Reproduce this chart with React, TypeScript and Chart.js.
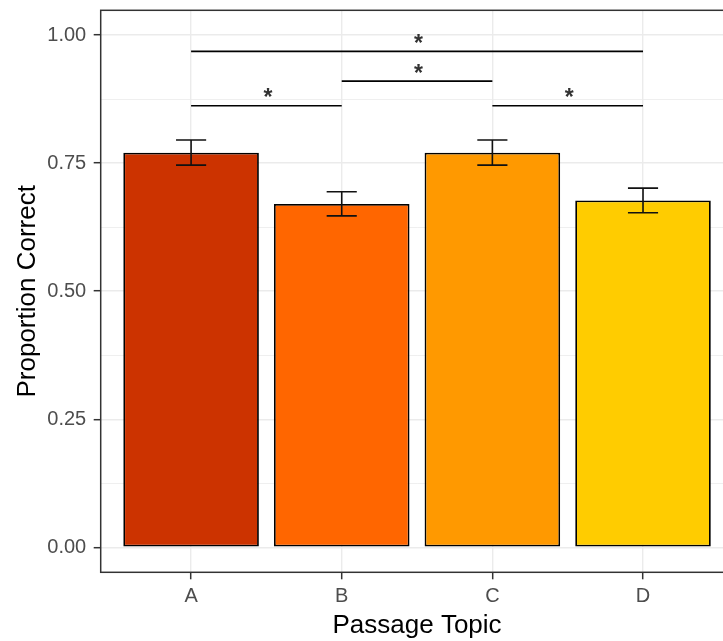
import React, { useEffect, useRef } from 'react';
import { Chart, registerables } from 'chart.js';

Chart.register(...registerables);

// ---- data ----
const categories = ['A', 'B', 'C', 'D'];
const proportion = [0.770, 0.670, 0.770, 0.677];
const errLow = [0.746, 0.647, 0.746, 0.653];
const errHigh = [0.795, 0.694, 0.795, 0.701];
const barColors = ['#CC3300', '#FF6600', '#FF9900', '#FFCC00'];
const yTickValues = [0, 0.25, 0.5, 0.75, 1.0];
const bracketFrom = ['A', 'B', 'A', 'C'];
const bracketTo = ['B', 'C', 'D', 'D'];
const bracketY = [0.862, 0.910, 0.968, 0.862];
const bracketLabels = ['*', '*', '*', '*'];

const FONT = "'Liberation Sans', Arial, sans-serif";

export default function App() {
  const ref = useRef<HTMLCanvasElement>(null);

  useEffect(() => {
    const canvas = ref.current;
    if (!canvas) return;

    const minor: number[] = [];
    for (let i = 0; i < yTickValues.length - 1; i++) minor.push((yTickValues[i] + yTickValues[i + 1]) / 2);
    const allY = [...yTickValues, ...minor].sort((a, b) => a - b);
    const isMajor = (v: number) => yTickValues.some((t) => Math.abs(t - v) < 1e-9);
    const catPos = (c: string) => categories.indexOf(c) + 1;
    const capWidth = 0.2;

    const overlay = {
      id: 'overlay',
      afterDatasetsDraw(chart: any) {
        const { ctx, chartArea } = chart;
        const x = chart.scales.x;
        const y = chart.scales.y;
        ctx.save();
        // error bars
        ctx.strokeStyle = '#111';
        ctx.lineWidth = 1.6;
        categories.forEach((c, i) => {
          const px = x.getPixelForValue(i + 1);
          const l = x.getPixelForValue(i + 1 - capWidth / 2);
          const r = x.getPixelForValue(i + 1 + capWidth / 2);
          const top = y.getPixelForValue(errHigh[i]);
          const bot = y.getPixelForValue(errLow[i]);
          ctx.beginPath();
          ctx.moveTo(l, top); ctx.lineTo(r, top);
          ctx.moveTo(px, top); ctx.lineTo(px, bot);
          ctx.moveTo(l, bot); ctx.lineTo(r, bot);
          ctx.stroke();
        });
        // significance brackets
        ctx.font = `bold 23px ${FONT}`;
        ctx.fillStyle = '#333';
        ctx.textAlign = 'center';
        ctx.textBaseline = 'alphabetic';
        bracketY.forEach((v, i) => {
          const x1 = x.getPixelForValue(catPos(bracketFrom[i]));
          const x2 = x.getPixelForValue(catPos(bracketTo[i]));
          const py = y.getPixelForValue(v);
          ctx.strokeStyle = '#000';
          ctx.lineWidth = 1.6;
          ctx.beginPath();
          ctx.moveTo(x1, py); ctx.lineTo(x2, py);
          ctx.stroke();
          const m = ctx.measureText(bracketLabels[i]);
          const asc = m.actualBoundingBoxAscent;
          const desc = m.actualBoundingBoxDescent;
          const center = py - 13;
          const base = center - (desc - asc) / 2;
          ctx.fillText(bracketLabels[i], (x1 + x2) / 2 + 1.5, base);
        });
        // panel border
        ctx.strokeStyle = '#333';
        ctx.lineWidth = 1.5;
        ctx.strokeRect(chartArea.left, chartArea.top, chartArea.right - chartArea.left, chartArea.bottom - chartArea.top);
        ctx.restore();
      },
    };

    const chart = new Chart(canvas, {
      type: 'bar',
      data: {
        datasets: [
          {
            data: categories.map((c, i) => ({ x: i + 1, y: proportion[i] })),
            backgroundColor: barColors,
            borderColor: '#000',
            borderWidth: 1.8,
            borderSkipped: false,
            barPercentage: 0.9,
            categoryPercentage: 1.0,
          },
        ],
      },
      options: {
        responsive: false,
        animation: false,
        devicePixelRatio: 1,
        layout: { padding: { left: 0, top: 10.3, right: 745 - 733.4, bottom: 0 } },
        plugins: { legend: { display: false }, tooltip: { enabled: false } },
        scales: {
          x: {
            type: 'linear',
            min: 0.4,
            max: 4.6,
            offset: false,
            afterBuildTicks: (scale: any) => {
              scale.ticks = categories.map((_, i) => ({ value: i + 1 }));
            },
            afterFit: (scale: any) => {
              scale.height = 641 - 572.3;
              scale.paddingLeft = 0;
              scale.paddingRight = 0;
            },
            border: { display: false },
            grid: {
              offset: false,
              color: '#EBEBEB',
              lineWidth: 1.4,
              tickColor: '#333',
              tickLength: 7,
              tickWidth: 1.5,
            },
            ticks: {
              autoSkip: false,
              maxRotation: 0,
              padding: 5,
              color: '#4D4D4D',
              font: { family: FONT, size: 20 },
              callback: (v: any) => categories[Math.round(Number(v)) - 1] ?? '',
            },
            title: {
              display: true,
              text: 'Passage Topic',
              color: '#000',
              font: { family: FONT, size: 26 },
              padding: { top: 0, bottom: 0 },
            },
          },
          y: {
            type: 'linear',
            min: -0.0488,
            max: 1.0482,
            afterBuildTicks: (scale: any) => {
              scale.ticks = allY.map((v) => ({ value: v }));
            },
            afterFit: (scale: any) => {
              scale.width = 100.7;
              scale.paddingTop = 0;
              scale.paddingBottom = 0;
            },
            border: { display: false },
            grid: {
              color: '#EBEBEB',
              lineWidth: (ctx: any) => (ctx.tick && isMajor(ctx.tick.value) ? 1.4 : 0.8),
              tickColor: (ctx: any) => (ctx.tick && isMajor(ctx.tick.value) ? '#333' : 'rgba(0,0,0,0)'),
              tickLength: 7,
              tickWidth: 1.5,
            },
            ticks: {
              autoSkip: false,
              padding: 7.5,
              color: '#4D4D4D',
              font: { family: FONT, size: 20 },
              callback: (v: any) => (isMajor(Number(v)) ? Number(v).toFixed(2) : ''),
            },
            title: {
              display: true,
              text: 'Proportion Correct',
              color: '#000',
              font: { family: FONT, size: 26 },
              padding: { top: 12.4, bottom: 0 },
            },
          },
        },
      },
      plugins: [overlay],
    } as any);

    return () => chart.destroy();
  }, []);

  return (
    <div
      style={{
        position: 'fixed',
        left: 0,
        top: 0,
        width: 723,
        height: 641,
        overflow: 'hidden',
        background: '#fff',
      }}
    >
      <canvas ref={ref} width={745} height={641} style={{ display: 'block' }} />
    </div>
  );
}
